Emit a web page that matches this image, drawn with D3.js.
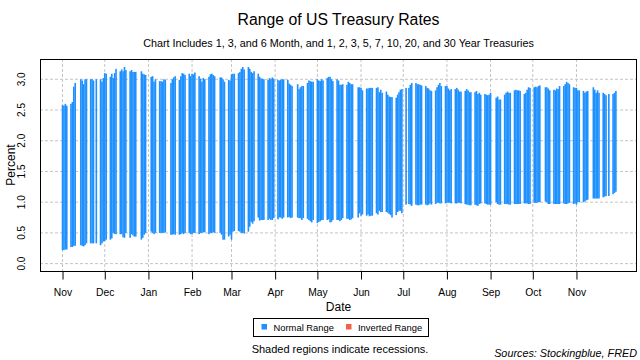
<!DOCTYPE html>
<html>
<head>
<meta charset="utf-8">
<script src="https://cdn.jsdelivr.net/npm/d3@7/dist/d3.min.js"></script>
<style>
  html, body { margin: 0; padding: 0; background: #fff; }
  svg { display: block; font-family: "Liberation Sans", Arial, sans-serif; }
</style>
</head>
<body>
<svg id="chart" width="640" height="360"></svg>
<script>
// ---------------- DATA ----------------
const months = ["2016-11","2016-12","2017-01","2017-02","2017-03","2017-04","2017-05","2017-06","2017-07","2017-08","2017-09","2017-10","2017-11"];
const tradingDays = [
  [1,2,3,4,7,8,9,10,14,15,16,17,18,21,22,23,25,28,29,30],
  [1,2,5,6,7,8,9,12,13,14,15,16,19,20,21,22,23,27,28,29,30],
  [3,4,5,6,9,10,11,12,13,17,18,19,20,23,24,25,26,27,30,31],
  [1,2,3,6,7,8,9,10,13,14,15,16,17,21,22,23,24,27,28],
  [1,2,3,6,7,8,9,10,13,14,15,16,17,20,21,22,23,24,27,28,29,30,31],
  [3,4,5,6,7,10,11,12,13,17,18,19,20,21,24,25,26,27,28],
  [1,2,3,4,5,8,9,10,11,12,15,16,17,18,19,22,23,24,25,26,30,31],
  [1,2,5,6,7,8,9,12,13,14,15,16,19,20,21,22,23,26,27,28,29,30],
  [3,5,6,7,10,11,12,13,14,17,18,19,20,21,24,25,26,27,28,31],
  [1,2,3,4,7,8,9,10,11,14,15,16,17,18,21,22,23,24,25,28,29,30,31],
  [1,5,6,7,8,11,12,13,14,15,18,19,20,21,22,25,26,27,28,29],
  [2,3,4,5,6,10,11,12,13,16,17,18,19,20,23,24,25,26,27,30,31],
  [1,2,3,6,7,8,9,13,14,15,16,17,20,21,22,24,27,28,29]
];
// highest rate of the day (percent)
const highRates = [
  2.58,2.57,2.60,2.57,2.60,2.63,2.88,2.94,3.00,2.98,2.92,3.00,3.00,3.00,3.00,2.98,3.00,3.00,2.96,3.02,
  3.10,3.09,3.04,3.09,3.02,3.10,3.17,3.13,3.16,3.13,3.20,3.15,3.13,3.15,3.12,3.12,3.12,3.13,3.09,3.08,3.07,
  3.04,3.05,2.96,3.00,2.97,2.97,2.96,3.00,2.99,2.94,3.00,3.03,3.05,2.99,3.05,3.10,3.09,3.07,3.09,3.05,
  3.09,3.08,3.11,3.05,3.01,2.96,3.02,3.00,3.04,3.08,3.09,3.07,3.05,3.03,3.03,3.00,2.96,2.99,2.98,
  3.08,3.09,3.09,3.10,3.12,3.17,3.20,3.16,3.20,3.17,3.12,3.10,3.13,3.09,3.04,3.01,3.01,3.00,2.99,3.02,3.00,3.03,3.01,
  2.99,2.98,2.99,3.00,3.00,2.99,2.93,2.91,2.89,2.92,2.84,2.87,2.89,2.89,2.94,2.98,2.97,2.96,2.96,
  3.00,2.98,2.97,3.00,2.98,3.02,3.04,3.04,3.00,2.97,3.00,2.98,2.91,2.91,2.92,2.91,2.96,2.94,2.92,2.92,2.87,2.87,
  2.86,2.82,2.85,2.85,2.86,2.86,2.86,2.86,2.87,2.79,2.83,2.78,2.80,2.75,2.72,2.71,2.71,2.70,2.75,2.79,2.83,2.84,
  2.86,2.86,2.91,2.94,2.94,2.92,2.92,2.91,2.90,2.89,2.86,2.85,2.82,2.81,2.82,2.87,2.91,2.94,2.89,2.89,
  2.89,2.85,2.82,2.84,2.84,2.86,2.83,2.80,2.80,2.81,2.84,2.82,2.79,2.79,2.79,2.81,2.76,2.78,2.75,2.76,2.75,2.74,2.75,
  2.78,2.70,2.72,2.67,2.67,2.75,2.78,2.80,2.78,2.78,2.82,2.83,2.82,2.82,2.81,2.76,2.78,2.83,2.87,2.86,
  2.87,2.88,2.87,2.89,2.90,2.87,2.87,2.85,2.82,2.83,2.82,2.85,2.84,2.89,2.89,2.92,2.96,2.94,2.92,2.87,2.86,
  2.86,2.82,2.82,2.81,2.78,2.80,2.81,2.87,2.83,2.78,2.82,2.78,2.78,2.76,2.74,2.76,2.76,2.78,2.81
];
// lowest rate of the day (percent)
const lowRates = [
  0.22,0.22,0.23,0.23,0.27,0.27,0.29,0.29,0.30,0.29,0.28,0.30,0.33,0.33,0.33,0.33,0.33,0.30,0.33,0.36,
  0.37,0.39,0.39,0.41,0.50,0.48,0.48,0.48,0.48,0.43,0.42,0.50,0.42,0.48,0.46,0.44,0.44,0.39,0.42,0.47,0.50,
  0.52,0.50,0.48,0.50,0.50,0.50,0.50,0.50,0.51,0.47,0.47,0.48,0.47,0.47,0.48,0.50,0.48,0.50,0.50,0.48,
  0.48,0.50,0.50,0.48,0.50,0.50,0.51,0.51,0.48,0.50,0.50,0.51,0.50,0.50,0.47,0.39,0.39,0.44,0.47,
  0.39,0.52,0.53,0.53,0.52,0.50,0.50,0.49,0.52,0.60,0.68,0.65,0.69,0.75,0.70,0.71,0.71,0.71,0.71,0.73,0.71,0.71,0.74,
  0.72,0.75,0.75,0.73,0.75,0.75,0.76,0.74,0.75,0.75,0.74,0.74,0.71,0.74,0.73,0.71,0.69,0.67,0.71,
  0.66,0.68,0.69,0.71,0.71,0.71,0.72,0.67,0.68,0.71,0.71,0.71,0.69,0.71,0.74,0.73,0.73,0.71,0.72,0.74,0.75,0.82,
  0.78,0.80,0.78,0.80,0.77,0.78,0.78,0.82,0.80,0.86,0.84,0.84,0.84,0.83,0.81,0.79,0.75,0.79,0.84,0.86,0.86,0.82,
  0.96,0.97,0.96,0.94,0.96,0.95,0.95,0.96,0.96,0.96,0.95,0.96,0.98,0.96,0.97,0.99,0.99,0.98,0.98,0.98,
  0.99,0.99,0.99,0.98,0.98,0.98,0.99,0.99,0.98,0.97,0.96,0.96,0.95,0.95,0.96,0.95,0.94,0.97,0.98,0.98,0.97,0.96,0.96,
  0.96,1.00,0.97,0.96,0.96,0.97,0.97,0.97,0.96,0.96,0.97,0.97,0.97,0.97,0.97,0.98,0.98,0.98,0.97,0.97,
  0.99,0.99,0.99,1.00,1.00,1.01,1.00,0.97,0.97,0.97,0.97,0.97,0.97,0.97,0.98,0.97,0.97,0.98,0.99,0.97,0.98,
  0.96,1.00,1.00,1.00,1.01,1.03,1.04,1.06,1.06,1.06,1.06,1.06,1.08,1.09,1.10,1.10,1.13,1.15,1.17
];
const monthTickLabels = ["Nov","Dec","Jan","Feb","Mar","Apr","May","Jun","Jul","Aug","Sep","Oct","Nov"];
const yTicks = [0.0,0.5,1.0,1.5,2.0,2.5,3.0];
const legendItems = [{label:"Normal Range", color:"#1E90FF"},{label:"Inverted Range", color:"#F4604A"}];

// ---------------- BUILD ----------------
const parse = d3.timeParse("%Y-%m-%d");
const dates = [];
months.forEach((m, i) => tradingDays[i].forEach(d => dates.push(parse(m + "-" + String(d).padStart(2,"0")))));
const data = dates.map((d, i) => ({date: d, lo: lowRates[i], hi: highRates[i]})).filter(d => d.hi != null);

const svg = d3.select("#chart");
const L = 40, R = 637, T = 59, B = 271;

const x = d3.scaleTime()
  .domain([parse("2016-10-16"), parse("2017-12-14")])
  .range([L, R]);
const y = d3.scaleLinear().domain([-0.12, 3.33]).range([B, T]);

const monthStarts = months.map(m => parse(m + "-01"));

// grid
const grid = svg.append("g");
grid.selectAll("line.h").data(yTicks).join("line")
  .attr("x1", L).attr("x2", R)
  .attr("y1", d => y(d)).attr("y2", d => y(d))
  .attr("stroke", "#c4c4c4").attr("stroke-width", 1).attr("stroke-dasharray", "3,2");
grid.selectAll("line.v").data(monthStarts).join("line")
  .attr("x1", d => x(d)).attr("x2", d => x(d))
  .attr("y1", T).attr("y2", B)
  .attr("stroke", "#c4c4c4").attr("stroke-width", 1).attr("stroke-dasharray", "3,2");

// bars
svg.append("g").selectAll("rect").data(data).join("rect")
  .attr("x", d => x(d.date) - 0.8)
  .attr("width", 1.6)
  .attr("y", d => y(Math.max(d.hi, d.lo)))
  .attr("height", d => Math.abs(y(d.lo) - y(d.hi)))
  .attr("fill", d => d.hi >= d.lo ? legendItems[0].color : legendItems[1].color);

// frame
svg.append("rect").attr("x", L + 0.5).attr("y", T + 0.5)
  .attr("width", R - L - 1).attr("height", B - T)
  .attr("fill", "none").attr("stroke", "#000").attr("stroke-width", 1);

// x axis
const xAxis = d3.axisBottom(x).tickValues(monthStarts)
  .tickFormat((d, i) => monthTickLabels[i]).tickSize(8).tickSizeOuter(0);
const gx = svg.append("g").attr("transform", `translate(0,${B + 0.5})`).call(xAxis);
gx.select(".domain").remove();
gx.selectAll(".tick line").attr("stroke", "#000");
gx.selectAll(".tick text").attr("font-size", "10.3px").attr("font-family", "Liberation Sans, Arial, sans-serif")
  .attr("fill", "#000").attr("y", 0).attr("dy", 0).attr("transform", "translate(0,24)");

// y tick labels (rotated)
svg.append("g").selectAll("text").data(yTicks).join("text")
  .attr("transform", d => `translate(25,${y(d)}) rotate(-90)`)
  .attr("text-anchor", "middle").attr("font-size", "10px").attr("fill", "#000")
  .text(d => d3.format(".1f")(d));

// axis titles
svg.append("text").attr("transform", `translate(14.5,${(T + B) / 2}) rotate(-90)`)
  .attr("text-anchor", "middle").attr("font-size", "12px").text("Percent");
svg.append("text").attr("x", (L + R) / 2).attr("y", 310.5)
  .attr("text-anchor", "middle").attr("font-size", "12px").text("Date");

// titles
svg.append("text").attr("x", (L + R) / 2).attr("y", 25)
  .attr("text-anchor", "middle").attr("font-size", "15.8px").text("Range of US Treasury Rates");
svg.append("text").attr("x", (L + R) / 2).attr("y", 47)
  .attr("text-anchor", "middle").attr("font-size", "10.8px")
  .text("Chart Includes 1, 3, and 6 Month, and 1, 2, 3, 5, 7, 10, 20, and 30 Year Treasuries");

// legend
const lg = svg.append("g");
lg.append("rect").attr("x", 253.5).attr("y", 318.5).attr("width", 175).attr("height", 18)
  .attr("fill", "#fff").attr("stroke", "#000").attr("stroke-width", 1);
const lgX = [261.5, 346];
legendItems.forEach((it, i) => {
  lg.append("rect").attr("x", lgX[i]).attr("y", 324).attr("width", 5.5).attr("height", 5.5).attr("fill", it.color);
  lg.append("text").attr("x", lgX[i] + 12).attr("y", 331).attr("font-size", "9.4px").text(it.label);
});

svg.append("text").attr("x", 340).attr("y", 353)
  .attr("text-anchor", "middle").attr("font-size", "11px").text("Shaded regions indicate recessions.");
svg.append("text").attr("x", 637).attr("y", 357)
  .attr("text-anchor", "end").attr("font-size", "10.8px").attr("font-style", "italic")
  .text("Sources: Stockingblue, FRED");
</script>
</body>
</html>
